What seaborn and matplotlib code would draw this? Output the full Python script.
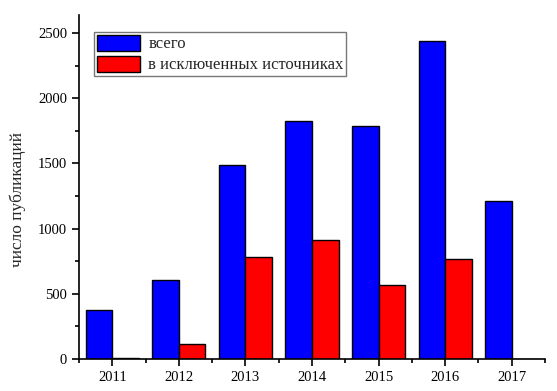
import matplotlib
matplotlib.use("Agg")
import matplotlib.pyplot as plt
import seaborn as sns
import pandas as pd
from matplotlib.ticker import MultipleLocator
from matplotlib.patches import Patch

years = ["2011", "2012", "2013", "2014", "2015", "2016", "2017"]
total = [376, 606, 1485, 1827, 1784, 2436, 1212]
excluded = [8, 115, 780, 910, 565, 765, 0]
series_names = ["всего", "в исключенных источниках"]
colors = ["#0000FF", "#FF0000"]

df = pd.DataFrame({
    "year": years * 2,
    "value": total + excluded,
    "series": [series_names[0]] * len(years) + [series_names[1]] * len(years),
})

sns.set_theme(style="ticks")
plt.rcParams["font.family"] = ["Liberation Serif", "DejaVu Serif"]

fig = plt.figure(figsize=(5.57, 3.91), dpi=100)
ax = fig.add_axes([79 / 557, (391 - 359) / 391, (545 - 79) / 557, (359 - 15) / 391])

sns.barplot(data=df, x="year", y="value", hue="series", palette=colors,
            width=0.8, edgecolor="black", linewidth=1.0, saturation=1,
            legend=False, ax=ax)

ax.set_xlim(-0.5, 6.5)
ax.set_ylim(0, 2638)
ax.yaxis.set_major_locator(MultipleLocator(500))
ax.yaxis.set_minor_locator(MultipleLocator(250))
ax.set_xticks(range(len(years)))
ax.set_xticks([i + 0.5 for i in range(-1, len(years))], minor=True)
ax.set_xticklabels(years)
ax.tick_params(axis="both", which="major", direction="out", length=5, width=1.2,
               labelsize=10.5, color="black", labelcolor="black")
ax.tick_params(axis="both", which="minor", direction="out", length=3, width=1.2,
               color="black")
for side in ["top", "right"]:
    ax.spines[side].set_visible(False)
for side in ["left", "bottom"]:
    ax.spines[side].set_linewidth(1.2)
    ax.spines[side].set_color("black")
ax.set_xlabel("")
ax.set_ylabel("число публикаций", fontsize=12.5)
ax.yaxis.set_label_coords(-0.113, 0.465)

handles = [Patch(facecolor=c, edgecolor="black", linewidth=1.0) for c in colors]
leg = ax.legend(handles, series_names, loc="upper left",
                bbox_to_anchor=((94 - 79) / 466, (359 - 32) / 344),
                fontsize=12, frameon=True, fancybox=False, edgecolor="#555555",
                handlelength=2.6, handleheight=1.1, handletextpad=0.5,
                borderpad=0.15, labelspacing=0.2, borderaxespad=0)
leg.get_frame().set_linewidth(1.0)

fig.savefig("out.png", dpi=100)
